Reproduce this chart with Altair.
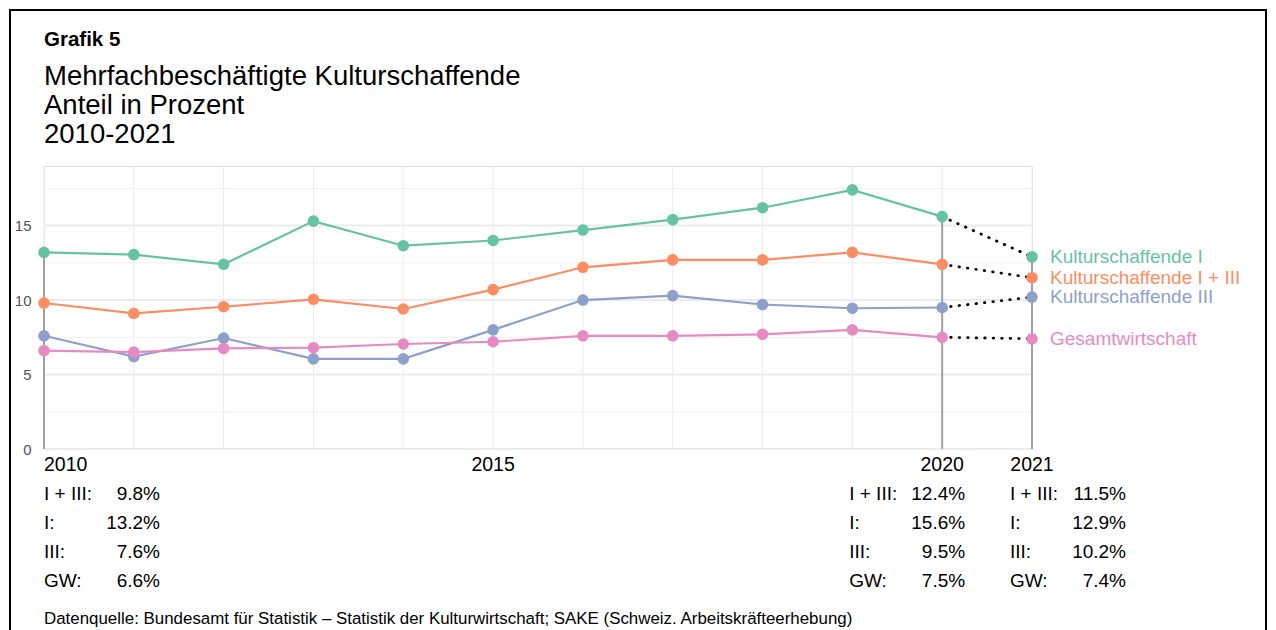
import altair as alt
import pandas as pd

# ---------------- data ----------------
years = list(range(2010, 2022))
series_names = ["Kulturschaffende I", "Kulturschaffende I + III",
                "Kulturschaffende III", "Gesamtwirtschaft"]
short_names = ["I", "I + III", "III", "GW"]
colors = ["#66C2A5", "#FC8D62", "#8DA0CB", "#E78AC3"]

k1 = [13.2, 13.05, 12.4, 15.3, 13.65, 14.0, 14.7, 15.4, 16.2, 17.4, 15.6, 12.9]
k13 = [9.8, 9.1, 9.55, 10.05, 9.4, 10.7, 12.2, 12.7, 12.7, 13.2, 12.4, 11.5]
k3 = [7.6, 6.2, 7.45, 6.05, 6.05, 8.0, 10.0, 10.3, 9.7, 9.45, 9.5, 10.2]
gw = [6.6, 6.5, 6.75, 6.8, 7.05, 7.2, 7.6, 7.6, 7.7, 8.0, 7.5, 7.4]

x_label_years = [2010, 2015, 2020, 2021]
table_years = [2010, 2020, 2021]
table_order = ["I + III", "I", "III", "GW"]
major_grid = [0, 5, 10, 15]
minor_grid = [2.5, 7.5, 12.5, 17.5]

title_main = "Grafik 5"
title_lines = ["Mehrfachbeschäftigte Kulturschaffende", "Anteil in Prozent", "2010-2021"]
source_text = ("Datenquelle: Bundesamt für Statistik – Statistik der Kulturwirtschaft; "
               "SAKE (Schweiz. Arbeitskräfteerhebung)")

FONT = "Liberation Sans"
W, H = 988, 283

all_vals = [k1, k13, k3, gw]
rows = []
for name, short, vals in zip(series_names, short_names, all_vals):
    for yr, v in zip(years, vals):
        rows.append(dict(series=name, short=short, year=yr, value=v))
df = pd.DataFrame(rows)

xs = alt.Scale(domain=[2010, 2021], nice=False, zero=False)
ys = alt.Scale(domain=[0, 19], nice=False, zero=True)
yaxis = alt.Axis(values=major_grid, title=None, domain=False, ticks=False, grid=False,
                 labelColor="#555555", labelFontSize=15, labelPadding=13, labelFont=FONT)
color = alt.Color("series:N", scale=alt.Scale(domain=series_names, range=colors), legend=None)


def X(field="year"):
    return alt.X(f"{field}:Q", scale=xs, axis=None)


def Y(field):
    return alt.Y(f"{field}:Q", scale=ys, axis=yaxis)


# ---------------- grid ----------------
grid_minor = alt.Chart(pd.DataFrame({"v": minor_grid})).mark_rule(
    color="#f0f0f0", strokeWidth=1).encode(y=Y("v"), x=alt.value(0), x2=alt.value(W))
grid_major = alt.Chart(pd.DataFrame({"v": major_grid})).mark_rule(
    color="#ebebeb", strokeWidth=2).encode(y=Y("v"), x=alt.value(0), x2=alt.value(W))
grid_vert = alt.Chart(pd.DataFrame({"year": years})).mark_rule(
    color="#ebebeb", strokeWidth=1).encode(x=X(), y=alt.value(0), y2=alt.value(H))

seg_rows = []
for yr in table_years:
    i = years.index(yr)
    seg_rows.append(dict(year=yr, top=max(v[i] for v in all_vals), zero=0))
segs = alt.Chart(pd.DataFrame(seg_rows)).mark_rule(color="#a0a0a0", strokeWidth=2).encode(
    x=X(), y=Y("top"), y2="zero:Q")

# ---------------- data marks ----------------
solid = alt.Chart(df[df.year <= 2020]).mark_line(strokeWidth=2.2).encode(
    x=X(), y=Y("value"), color=color, detail="series:N")
dotted = alt.Chart(df[df.year >= 2020]).mark_line(
    strokeWidth=2.8, color="black", strokeDash=[0.5, 8], strokeCap="round").encode(
    x=X(), y=Y("value"), detail="series:N")
points = alt.Chart(df).mark_circle(size=135, opacity=1).encode(
    x=X(), y=Y("value"), color=color)
labels = alt.Chart(df[df.year == 2021]).mark_text(
    align="left", baseline="middle", dx=18, fontSize=19, font=FONT).encode(
    x=X(), y=Y("value"), color=color, text="series:N")

# ---------------- x labels ----------------
xl_left = alt.Chart(pd.DataFrame({"year": x_label_years[:1]})).mark_text(
    align="left", baseline="middle", fontSize=19.5, font=FONT, color="black").encode(
    x=X(), y=alt.value(H + 16), text=alt.Text("year:Q", format="d"))
xl_center = alt.Chart(pd.DataFrame({"year": x_label_years[1:]})).mark_text(
    align="center", baseline="middle", fontSize=19.5, font=FONT, color="black").encode(
    x=X(), y=alt.value(H + 16), text=alt.Text("year:Q", format="d"))

# ---------------- table below ----------------
col_offsets = {2010: (0, 116), 2020: (-93, 23), 2021: (-22, 94)}
table_layers = []
for yr in table_years:
    sub = df[df.year == yr].set_index("short")
    lab_txt = "\n".join(f"{s}:" for s in table_order)
    val_txt = "\n".join(f"{sub.loc[s, 'value']:.1f}%" for s in table_order)
    tdf = pd.DataFrame({"year": [yr], "lab": [lab_txt], "val": [val_txt]})
    dl, dv = col_offsets[yr]
    table_layers.append(alt.Chart(tdf).mark_text(
        align="left", baseline="middle", dx=dl, fontSize=19, font=FONT, color="black",
        lineBreak="\n", lineHeight=29).encode(x=X(), y=alt.value(H + 45), text="lab:N"))
    table_layers.append(alt.Chart(tdf).mark_text(
        align="right", baseline="middle", dx=dv, fontSize=19, font=FONT, color="black",
        lineBreak="\n", lineHeight=29).encode(x=X(), y=alt.value(H + 45), text="val:N"))

# ---------------- titles, source, frame ----------------
one = pd.DataFrame({"t": [title_main], "s": ["\n".join(title_lines)], "src": [source_text]})
t_main = alt.Chart(one).mark_text(align="left", baseline="middle", fontSize=20.5,
                                  fontWeight="bold", font=FONT, color="black").encode(
    x=alt.value(0), y=alt.value(-126), text="t:N")
t_sub = alt.Chart(one).mark_text(align="left", baseline="middle", fontSize=27.5, font=FONT,
                                 color="black", lineBreak="\n", lineHeight=29).encode(
    x=alt.value(0), y=alt.value(-89), text="s:N")
t_src = alt.Chart(one).mark_text(align="left", baseline="middle", fontSize=16.9, font=FONT,
                                 color="black").encode(
    x=alt.value(0), y=alt.value(H + 170), text="src:N")
frame = alt.Chart(one).mark_rect(fillOpacity=0, stroke="black", strokeWidth=2).encode(
    x=alt.value(-34), x2=alt.value(1222), y=alt.value(-156), y2=alt.value(H + 220))

chart = alt.layer(
    grid_minor, grid_major, grid_vert, segs, solid, dotted, points, labels,
    xl_left, xl_center, *table_layers, t_main, t_sub, t_src, frame
).properties(
    width=W, height=H,
    autosize=alt.AutoSizeParams(type="none"),
    padding={"left": 36, "top": 158, "right": 236, "bottom": 181},
).configure_view(stroke=None).configure(background="white")

chart.save("out.html", embed_options={"renderer": "svg", "actions": False})
